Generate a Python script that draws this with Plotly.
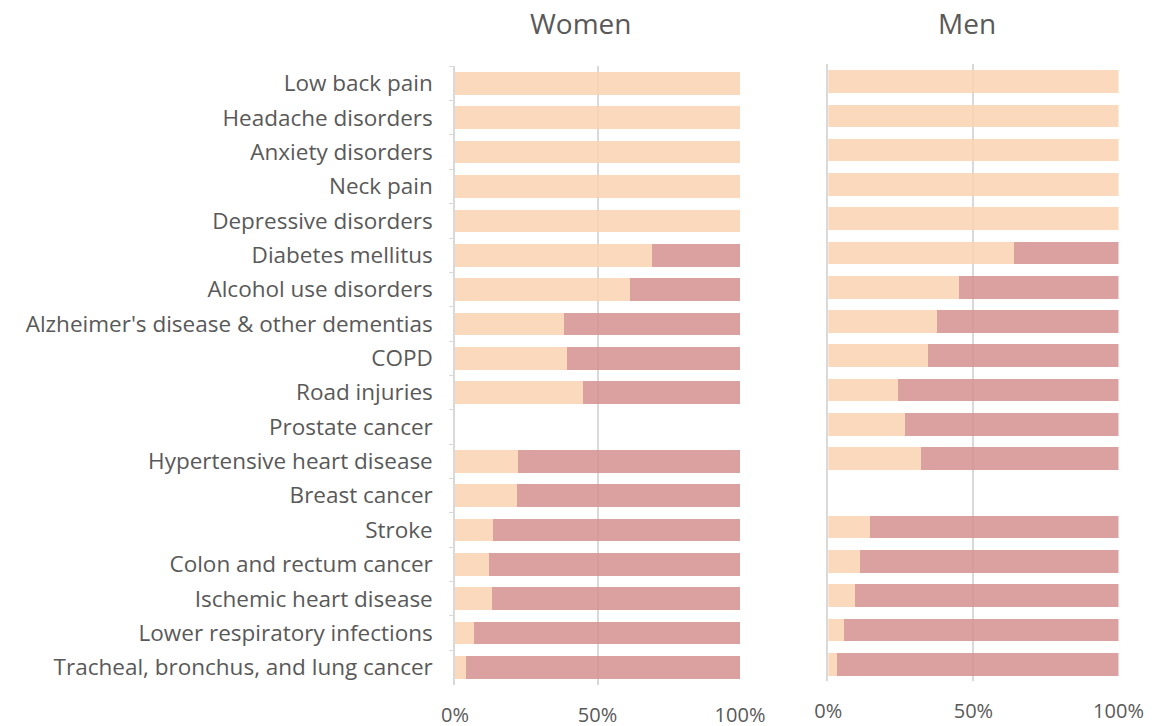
import plotly.graph_objects as go
from plotly.subplots import make_subplots

categories = ["Low back pain", "Headache disorders", "Anxiety disorders", "Neck pain",
              "Depressive disorders", "Diabetes mellitus", "Alcohol use disorders",
              "Alzheimer's disease & other dementias", "COPD", "Road injuries",
              "Prostate cancer", "Hypertensive heart disease", "Breast cancer", "Stroke",
              "Colon and rectum cancer", "Ischemic heart disease",
              "Lower respiratory infections", "Tracheal, bronchus, and lung cancer"]

women_light = [100, 100, 100, 100, 100, 69, 61.4, 38.2, 39.2, 44.9, None, 22.0, 21.6,
               13.4, 11.9, 12.9, 6.6, 3.8]
men_light = [100, 100, 100, 100, 100, 64.0, 45.1, 37.4, 34.4, 24.1, 26.4, 32.1, None,
             14.5, 10.9, 9.2, 5.3, 3.1]

women_dark = [None if v is None else 100 - v for v in women_light]
men_dark = [None if v is None else 100 - v for v in men_light]

LIGHT = "rgba(250,210,176,0.85)"
DARK = "rgba(213,143,143,0.85)"
GRID = "#d9d9d9"
TXT = "#595959"
FONT = "Open Sans"

fig = make_subplots(rows=1, cols=2)

for col, light, dark in [(1, women_light, women_dark), (2, men_light, men_dark)]:
    fig.add_trace(go.Bar(y=categories, x=light, orientation="h", marker_color=LIGHT,
                         marker_line_width=0, width=0.66, showlegend=False,
                         hoverinfo="x+y"), row=1, col=col)
    fig.add_trace(go.Bar(y=categories, x=dark, orientation="h", marker_color=DARK,
                         marker_line_width=0, width=0.66, showlegend=False,
                         hoverinfo="x+y"), row=1, col=col)

W, H = 1163, 726


def px_x(p):
    return p / W


def px_y(p):
    return 1 - p / H


xcommon = dict(range=[0, 100], tickvals=[0, 50, 100], ticktext=["0%", "50%", "100%"],
               showgrid=True, gridcolor=GRID, gridwidth=1.5, zeroline=False,
               showline=False, ticks="", ticklabelstandoff=16, automargin=False,
               tickfont=dict(family=FONT, size=20, color=TXT), fixedrange=True)

fig.update_layout(
    width=W, height=H, barmode="stack", bargap=0.34,
    margin=dict(l=0, r=0, t=0, b=0, autoexpand=False),
    paper_bgcolor="white", plot_bgcolor="white",
    font=dict(family=FONT, color=TXT),
    xaxis=dict(domain=[px_x(455), px_x(740)], **xcommon),
    xaxis2=dict(domain=[px_x(828.3), px_x(1118.5)], **xcommon),
    yaxis=dict(domain=[px_y(684.5), px_y(66.3)], autorange="reversed",
               categoryorder="array", categoryarray=categories,
               showline=True, linecolor=GRID, linewidth=1.5, automargin=False,
               ticks="outside", tickson="boundaries", ticklen=4, tickcolor=GRID,
               ticklabelstandoff=16, showgrid=False, fixedrange=True,
               tickfont=dict(family=FONT, size=22.5, color=TXT)),
    yaxis2=dict(domain=[px_y(681.4), px_y(64.4)], autorange="reversed",
                categoryorder="array", categoryarray=categories, automargin=False,
                showline=True, linecolor=GRID, linewidth=1.5, fixedrange=True,
                showticklabels=False, ticks="", showgrid=False),
)

fig.add_annotation(text="Women", x=px_x(581), y=px_y(23), xref="paper", yref="paper",
                   showarrow=False, font=dict(family=FONT, size=28, color=TXT),
                   xanchor="center", yanchor="middle")
fig.add_annotation(text="Men", x=px_x(967), y=px_y(23), xref="paper", yref="paper",
                   showarrow=False, font=dict(family=FONT, size=28, color=TXT),
                   xanchor="center", yanchor="middle")

fig.write_html(
    "out.html",
    config={"displayModeBar": False},
    post_script="document.body.style.margin='0';document.body.style.overflow='hidden';",
)
